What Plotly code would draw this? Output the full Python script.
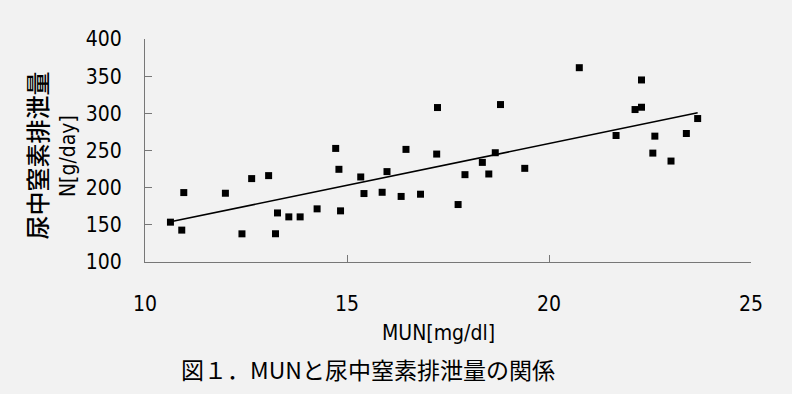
import numpy as np
import plotly.graph_objects as go

# MUN [mg/dl]
mun = [10.63, 10.91, 10.96, 11.99, 12.40, 12.64, 13.06, 13.23, 13.28, 13.56,
       13.84, 14.26, 14.72, 14.80, 14.84, 15.34, 15.42, 15.87, 15.99, 16.34,
       16.46, 16.82, 17.22, 17.24, 17.75, 17.92, 18.35, 18.51, 18.67, 18.80,
       19.40, 20.75, 21.66, 22.13, 22.29, 22.29, 22.57, 22.62, 23.02, 23.40,
       23.68]
# urinary N excretion [g/day]
urine_n = [153.6, 142.9, 193.4, 192.5, 137.9, 212.2, 216.2, 138.0, 166.0, 160.7,
           160.7, 171.5, 252.8, 224.7, 168.8, 214.4, 192.1, 193.8, 221.6, 188.2,
           251.5, 191.2, 245.2, 307.8, 177.3, 217.5, 234.0, 218.4, 247.0, 311.8,
           226.0, 361.4, 270.2, 305.1, 308.2, 344.9, 246.5, 269.3, 235.8, 272.9,
           293.0]

x_ticks = [10, 15, 20, 25]
y_ticks = [100, 150, 200, 250, 300, 350, 400]

slope, intercept = np.polyfit(mun, urine_n, 1)
fit_x = [min(mun), max(mun)]
fit_y = [slope * v + intercept for v in fit_x]

NARROW = "DejaVu Sans Condensed, Liberation Sans Narrow, Liberation Sans, sans-serif"
CJK = "Noto Sans CJK JP, sans-serif"

fig = go.Figure()
fig.add_trace(go.Scatter(x=fit_x, y=fit_y, mode="lines",
                         line=dict(color="black", width=1.6),
                         hoverinfo="skip", showlegend=False))
fig.add_trace(go.Scatter(x=mun, y=urine_n, mode="markers",
                         marker=dict(symbol="square", size=7, color="black"),
                         showlegend=False))

fig.update_layout(
    width=792, height=394,
    margin=dict(l=145, r=41, t=39, b=132),
    paper_bgcolor="#f2f2f2", plot_bgcolor="#f2f2f2",
    font=dict(family=NARROW, color="black"),
    xaxis=dict(range=[10, 25], tickvals=x_ticks, ticks="inside", ticklen=7,
               tickcolor="#777", showline=True, linecolor="#777", linewidth=1,
               showgrid=False, zeroline=False,
               tickfont=dict(family=NARROW, size=21), ticklabelstandoff=23),
    yaxis=dict(range=[100, 400], tickvals=y_ticks, ticks="inside", ticklen=7,
               tickcolor="#777", showline=True, linecolor="#777", linewidth=1,
               showgrid=False, zeroline=False,
               tickfont=dict(family=NARROW, size=21), ticklabelstandoff=18),
    annotations=[
        dict(text="尿中窒素排泄量", textangle=-90, xref="paper", yref="paper",
             x=-0.179, y=0.475, xanchor="center", yanchor="middle",
             showarrow=False,
             font=dict(family=CJK, size=24, color="black", weight=500)),
        dict(text="N[g/day]", textangle=-90, xref="paper", yref="paper",
             x=-0.127, y=0.475, xanchor="center", yanchor="middle",
             showarrow=False, font=dict(family=NARROW, size=21, color="black")),
        dict(text="MUN[mg/dl]", xref="paper", yref="paper",
             x=0.4835, y=-0.32, xanchor="center", yanchor="middle",
             showarrow=False, font=dict(family=NARROW, size=21, color="black")),
        dict(text="図１．MUNと尿中窒素排泄量の関係", xref="paper", yref="paper",
             x=0.368, y=-0.48, xanchor="center", yanchor="middle",
             showarrow=False, font=dict(family=CJK, size=23, color="black")),
    ],
)

fig.write_html("out.html")
